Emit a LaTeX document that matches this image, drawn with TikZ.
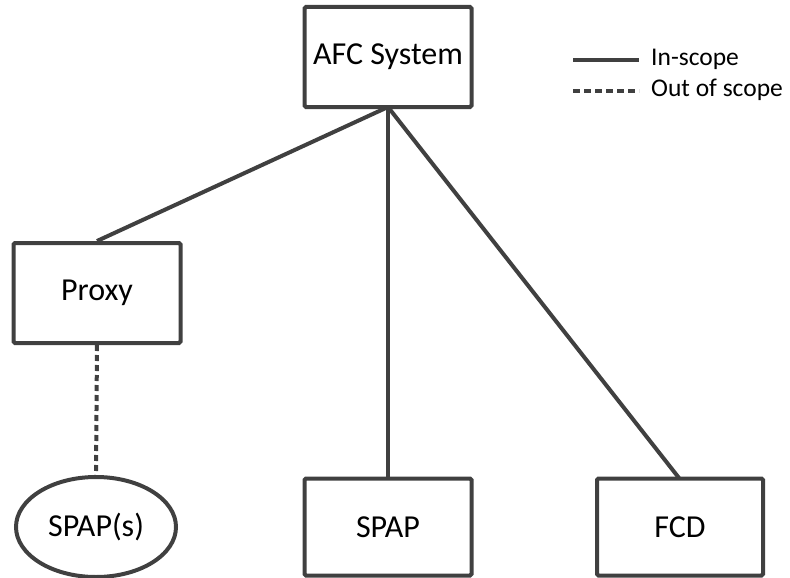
\documentclass[tikz,border=0pt]{standalone}
\usepackage{fontspec}
\setmainfont{Carlito}
\usetikzlibrary{shapes.geometric}
\definecolor{lc}{HTML}{404040}
\begin{document}
\begin{tikzpicture}[x=1pt,y=-1pt,
  box/.style={draw=lc,line width=4pt,rounded corners=1.5pt,fill=white,font=\fontsize{32}{36}\selectfont,inner sep=0pt},
  conn/.style={draw=lc,line width=4pt},
  oos/.style={draw=lc,line width=4pt,dash pattern=on 6pt off 4pt},
  leg/.style={font=\fontsize{25.5}{29}\selectfont,anchor=west,inner sep=0pt}]
\useasboundingbox (0,0) rectangle (790,578);
\node[box,minimum width=167pt,minimum height=100pt] (afc) at (388,57) {AFC System};
\node[box,minimum width=167pt,minimum height=100pt] (proxy) at (97,293) {Proxy};
\node[draw=lc,line width=4pt,ellipse,minimum width=160pt,minimum height=100pt,inner sep=0pt,font=\fontsize{32}{36}\selectfont] (spaps) at (96,527) {SPAP(s)};
\node[box,minimum width=167pt,minimum height=97pt] (spap) at (388,527) {SPAP};
\node[box,minimum width=166pt,minimum height=97pt] (fcd) at (680,527) {FCD};
\coordinate (afcb) at (388,107);
\draw[conn] (afcb) -- (proxy.north);
\draw[conn] (afcb) -- (spap.north);
\draw[conn] (afcb) -- (679,478);
\draw[oos] (proxy.south) -- (spaps.north);
\coordinate (l1a) at (573,60);
\coordinate (l1b) at (639,60);
\coordinate (l2a) at (573,91);
\coordinate (l2b) at (639,91);
\draw[conn] (l1a) -- (l1b);
\draw[draw=lc,line width=3.5pt,dash pattern=on 7pt off 4pt] (l2a) -- (l2b);
\node[leg] (t1) at (651,59) {In-scope};
\node[leg] (t2) at (651,90) {Out of scope};
\end{tikzpicture}
\end{document}
